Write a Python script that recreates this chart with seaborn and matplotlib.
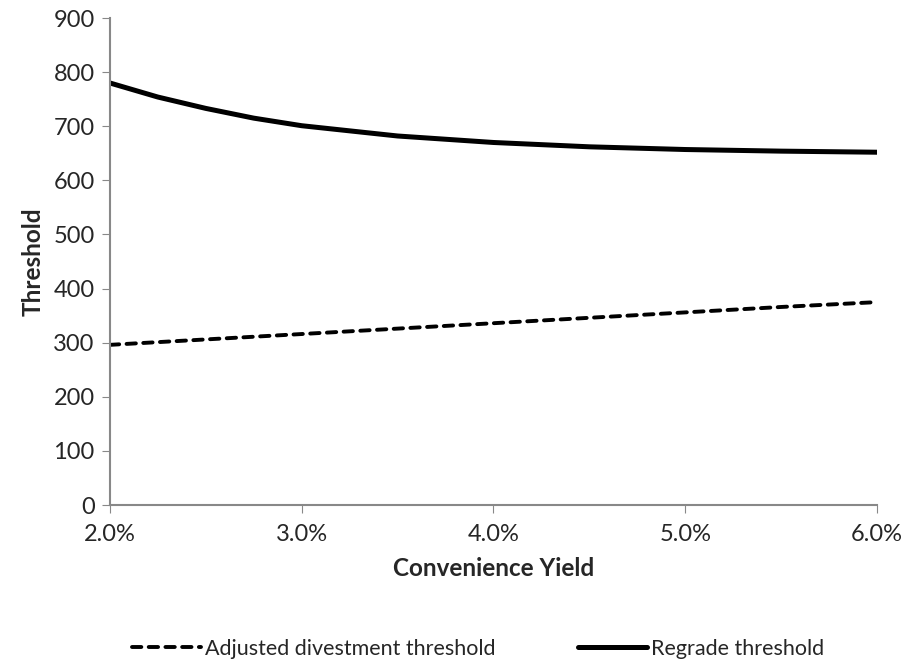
import numpy as np
import pandas as pd
import matplotlib
matplotlib.use("Agg")
import matplotlib.pyplot as plt
import seaborn as sns
from matplotlib.ticker import PercentFormatter

# values
yield_pct = [2.0, 2.25, 2.5, 2.75, 3.0, 3.5, 4.0, 4.5, 5.0, 5.5, 6.0]
divest = [296, 301, 306, 311, 316, 326, 336, 346, 356, 366, 375]
regrade = [780, 754, 733, 715, 701, 682, 670, 662, 657, 654, 652]

df = pd.DataFrame({"yield": yield_pct, "divest": divest, "regrade": regrade})

sns.set_style("white")
plt.rcParams["font.family"] = ["Lato", "DejaVu Sans"]

fig = plt.figure(figsize=(9.08, 6.68), dpi=100)
ax = fig.add_axes([0.121, 0.244, 0.845, 0.729])

sns.lineplot(data=df, x="yield", y="divest", ax=ax, color="black", lw=2.8,
             linestyle=(0, (2.4, 1.9)), dash_capstyle="round",
             label="Adjusted divestment threshold")
sns.lineplot(data=df, x="yield", y="regrade", ax=ax, color="black", lw=3.6,
             solid_capstyle="round", label="Regrade threshold")

ax.set_xlim(2.0, 6.0)
ax.set_ylim(0, 900)
ax.set_xticks([2, 3, 4, 5, 6])
ax.set_yticks(range(0, 901, 100))
ax.xaxis.set_major_formatter(PercentFormatter(decimals=1))
ax.tick_params(axis="both", labelsize=17, length=6, color="#888888",
               direction="out", left=True, bottom=True, pad=5)
ax.tick_params(axis="x", pad=8)
for s in ["top", "right"]:
    ax.spines[s].set_visible(False)
for s in ["left", "bottom"]:
    ax.spines[s].set_color("#888888")
    ax.spines[s].set_linewidth(1.5)

ax.set_xlabel("Convenience Yield", fontsize=17.5, fontweight="bold", labelpad=8)
ax.set_ylabel("Threshold", fontsize=17.5, fontweight="bold", labelpad=6)

ax.legend(loc="center", bbox_to_anchor=(0.48, -0.295), ncol=2, frameon=False,
          fontsize=15.5, handlelength=3.2, columnspacing=3.8, handletextpad=0.2)

fig.savefig("out.png", dpi=100)
